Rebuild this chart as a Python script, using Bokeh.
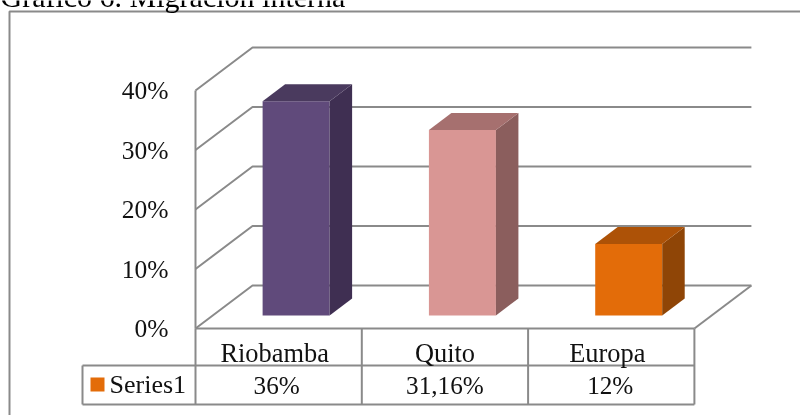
from bokeh.plotting import figure
from bokeh.models import Range1d, FixedTicker
from bokeh.core.properties import value
from bokeh.embed import file_html
from bokeh.resources import INLINE

title = "Gráfico 6. Migración interna"
categories = ["Riobamba", "Quito", "Europa"]
values = [36, 31.16, 12]
value_labels = ["36%", "31,16%", "12%"]
ticks = [0, 10, 20, 30, 40]
tick_labels = ["0%", "10%", "20%", "30%", "40%"]
series_name = "Series1"
front = ["#604A7B", "#D99694", "#E36C09"]
top = ["#4A3A5E", "#A6706F", "#AD5207"]
side = ["#3F2F52", "#8B5E5D", "#8F4506"]
swatch = "#E36C09"

W, H = 800, 415
AX_X, ZERO_Y = 195, 328
CAT_PX, PCT_PX = 166.3, 5.95
GRID = "#8A8A8A"
LW = 2
FONT = "Liberation Serif"
TXT = "#111111"
TEXT_SHIFT = 8
CAT_NUDGE = [-4, 0, -4]
VAL_NUDGE = [-2, 0, -1]

def dx(px):
    return px / CAT_PX

def dy(px):
    return px / PCT_PX

def X(px):
    return dx(px - AX_X)

def Y(py):
    return dy(ZERO_Y - py)

def YT(py):
    return Y(py - TEXT_SHIFT)

p = figure(width=W, height=H, output_backend="svg", toolbar_location=None,
           x_range=Range1d(X(0), X(W)), y_range=Range1d(Y(H), Y(0)),
           min_border_left=0, min_border_right=0, min_border_top=0, min_border_bottom=0,
           outline_line_color=None, x_axis_location=None,
           styles={"position": "fixed", "left": "0px", "top": "0px"})
p.grid.visible = False

ax = p.yaxis[0]
ax.fixed_location = 0
ax.ticker = FixedTicker(ticks=ticks)
ax.major_label_overrides = dict(zip(ticks, tick_labels))
ax.bounds = (ticks[0], ticks[-1])
ax.axis_line_color = GRID
ax.axis_line_width = LW
ax.major_tick_line_color = None
ax.minor_tick_line_color = None
ax.major_label_standoff = 21
ax.major_label_text_font = FONT
ax.major_label_text_font_size = "25.5px"
ax.major_label_text_color = TXT

# outer chart border (runs past the right and bottom edges of the picture)
p.line([X(9), X(9), X(W + 20)], [Y(H + 20), Y(11), Y(11)], line_color=GRID, line_width=LW)

# walls and floor
DX3, DY3 = dx(57), dy(43)
n = len(categories)
xs = [[0, DX3, n + DX3] for t in ticks]
ys = [[t, t + DY3, t + DY3] for t in ticks]
xs.append([n, n + DX3])
ys.append([0, DY3])
p.multi_line(xs, ys, line_color=GRID, line_width=LW)

# data table lines
R1, R2 = Y(365), Y(404)
LEG_L = X(82)
txs = [[0, n], [LEG_L, n], [LEG_L, n], [LEG_L, LEG_L]] + [[i, i] for i in range(n + 1)]
tys = [[0, 0], [R1, R1], [R2, R2], [R1, R2]] + [[0, R2]] * (n + 1)
p.multi_line(txs, tys, line_color=GRID, line_width=LW)

# 3D bars
CEN, BW = 0.605, dx(67)
BASE = dy(13)
BDX, BDY = dx(22.5), dy(17)
lefts = [i + CEN - BW / 2 for i in range(n)]
rights = [i + CEN + BW / 2 for i in range(n)]
tops = [BASE + v for v in values]
p.quad(left=lefts, right=rights, bottom=[BASE] * n, top=tops, fill_color=front, line_color=None)
p.patches([[r, r + BDX, r + BDX, r] for r in rights],
          [[BASE, BASE + BDY, t + BDY, t] for t in tops],
          fill_color=side, line_color=None)
p.patches([[l, l + BDX, r + BDX, r] for l, r in zip(lefts, rights)],
          [[t, t + BDY, t + BDY, t] for t in tops],
          fill_color=top, line_color=None)

# table text
p.text([i + 0.5 + dx(CAT_NUDGE[i]) for i in range(n)], [YT(360)] * n, text=categories,
       text_font=value(FONT), text_font_size="26.4px",
       text_color=TXT, text_align="center", text_baseline="alphabetic")
p.text([i + 0.5 + dx(VAL_NUDGE[i]) for i in range(n)], [YT(393)] * n, text=value_labels,
       text_font=value(FONT), text_font_size="25.2px",
       text_color=TXT, text_align="center", text_baseline="alphabetic")

# legend key
p.quad(left=[X(90)], right=[X(104)], top=[Y(377)], bottom=[Y(391)], fill_color=swatch, line_color=None)
p.text([X(109)], [YT(392)], text=[series_name], text_font=value(FONT), text_font_size="26px",
       text_color=TXT, text_baseline="alphabetic")

# heading, cut by the top edge as in the source picture
p.text([X(0)], [YT(3.5)], text=[title], text_font=value(FONT), text_font_size="30px",
       text_color="#000000", text_baseline="alphabetic")

open("out.html", "w").write(file_html(p, INLINE))
